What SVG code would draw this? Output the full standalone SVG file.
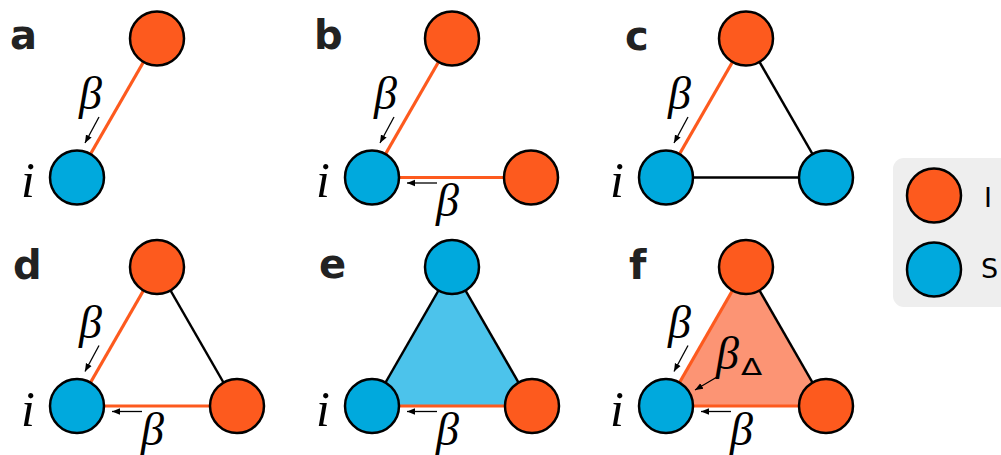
<svg xmlns="http://www.w3.org/2000/svg" width="1001" height="455" viewBox="0 0 1001 455">
<style>
.I{fill:#FD5A1E;stroke:#000;stroke-width:2.5}
.S{fill:#00A9DD;stroke:#000;stroke-width:2.5}
.eo{stroke:#FD5A1E;stroke-width:3.2;fill:none}
.ek{stroke:#000;stroke-width:2.5;fill:none}
.ar{stroke:#000;stroke-width:1.3;fill:none;marker-end:url(#ah)}
.lab{font-family:"DejaVu Sans",sans-serif;font-weight:bold;font-size:40px;fill:#222}
.m{font-family:"Liberation Serif","DejaVu Serif",serif;font-style:italic;font-size:46px;fill:#000}
.ii{font-family:"Liberation Serif","DejaVu Serif",serif;font-style:italic;font-size:50px;fill:#000}
.leg{font-family:"DejaVu Sans",sans-serif;font-size:27px;fill:#000}
</style>
<defs>
<marker id="ah" viewBox="0 0 10 10" refX="10" refY="5" markerWidth="8" markerHeight="8" markerUnits="userSpaceOnUse" orient="auto">
<path d="M0,1 L10,5 L0,9 z" fill="#000"/>
</marker>
</defs>

<g id="panel-labels">
<text class="lab" x="10" y="49">a</text>
<text class="lab" x="314" y="49">b</text>
<text class="lab" x="625" y="50">c</text>
<text class="lab" x="13" y="279">d</text>
<text class="lab" x="319" y="278">e</text>
<text class="lab" x="629" y="279">f</text>
</g>

<g id="connectors">
<line class="eo" x1="157" y1="38.5" x2="77" y2="177.5"/>
<line class="eo" x1="452" y1="38.5" x2="372" y2="177.5"/>
<line class="eo" x1="372" y1="177.5" x2="531" y2="177.5"/>
<line class="eo" x1="746" y1="38.5" x2="666" y2="177.5"/>
<line class="ek" x1="746" y1="38.5" x2="826" y2="177.5"/>
<line class="ek" x1="666" y1="177.5" x2="826" y2="177.5"/>
<line class="eo" x1="157" y1="267" x2="77" y2="406"/>
<line class="ek" x1="157" y1="267" x2="237" y2="406"/>
<line class="eo" x1="77" y1="406" x2="237" y2="406"/>
<polygon points="452,267 372,406 532,406" fill="#4CC3EB" stroke="none"/>
<line class="ek" x1="452" y1="267" x2="372" y2="406"/>
<line class="ek" x1="452" y1="267" x2="532" y2="406"/>
<line class="eo" x1="372" y1="406" x2="532" y2="406"/>
<polygon points="746,267 666,406 826,406" fill="#FC9474" stroke="none"/>
<line class="eo" x1="746" y1="267" x2="666" y2="406"/>
<line class="ek" x1="746" y1="267" x2="826" y2="406"/>
<line class="eo" x1="666" y1="406" x2="826" y2="406"/>

<line class="ar" x1="99" y1="117" x2="85" y2="143"/>
<line class="ar" x1="394" y1="117" x2="380" y2="143"/>
<line class="ar" x1="688" y1="117" x2="674" y2="143"/>
<line class="ar" x1="99" y1="345.5" x2="85" y2="371.5"/>
<line class="ar" x1="688" y1="345.5" x2="674" y2="371.5"/>
<line class="ar" x1="437" y1="183" x2="407" y2="183"/>
<line class="ar" x1="142" y1="411.5" x2="112" y2="411.5"/>
<line class="ar" x1="437" y1="411.5" x2="407" y2="411.5"/>
<line class="ar" x1="731" y1="411.5" x2="701" y2="411.5"/>
<line class="ar" x1="717" y1="377" x2="695" y2="390"/>
</g>

<g id="edge-labels">
<text class="m" x="79" y="109">β</text>
<text class="m" x="374" y="109">β</text>
<text class="m" x="668" y="109">β</text>
<text class="m" x="79" y="337.5">β</text>
<text class="m" x="668" y="337.5">β</text>
<text class="m" x="436" y="216">β</text>
<text class="m" x="141" y="444.5">β</text>
<text class="m" x="436" y="444.5">β</text>
<text class="m" x="730" y="444.5">β</text>
<text class="m" x="716" y="369">β</text>
<text transform="translate(741,375) scale(1.35,1)" font-family="DejaVu Sans, sans-serif" font-size="23">Δ</text>
</g>

<g id="node-labels">
<text class="ii" x="21" y="197">i</text>
<text class="ii" x="316" y="197">i</text>
<text class="ii" x="610" y="197">i</text>
<text class="ii" x="21" y="425.5">i</text>
<text class="ii" x="316" y="425.5">i</text>
<text class="ii" x="610" y="425.5">i</text>
</g>

<g id="a-nodes">
<circle id="a-top" class="I" cx="157" cy="38.5" r="27"/>
<circle id="a-i" class="S" cx="77" cy="177.5" r="27"/>
</g>
<g id="b-nodes">
<circle id="b-top" class="I" cx="452" cy="38.5" r="27"/>
<circle id="b-i" class="S" cx="372" cy="177.5" r="27"/>
<circle id="b-right" class="I" cx="531" cy="177.5" r="27"/>
</g>
<g id="c-nodes">
<circle id="c-top" class="I" cx="746" cy="38.5" r="27"/>
<circle id="c-i" class="S" cx="666" cy="177.5" r="27"/>
<circle id="c-right" class="S" cx="826" cy="177.5" r="27"/>
</g>
<g id="d-nodes">
<circle id="d-top" class="I" cx="157" cy="267" r="27"/>
<circle id="d-i" class="S" cx="77" cy="406" r="27"/>
<circle id="d-right" class="I" cx="237" cy="406" r="27"/>
</g>
<g id="e-nodes">
<circle id="e-top" class="S" cx="452" cy="267" r="27"/>
<circle id="e-i" class="S" cx="372" cy="406" r="27"/>
<circle id="e-right" class="I" cx="532" cy="406" r="27"/>
</g>
<g id="f-nodes">
<circle id="f-top" class="I" cx="746" cy="267" r="27"/>
<circle id="f-i" class="S" cx="666" cy="406" r="27"/>
<circle id="f-right" class="I" cx="826" cy="406" r="27"/>
</g>

<g id="legend">
<rect x="893" y="158" width="130" height="149" rx="11" fill="#EEEEEE"/>
<circle class="I" cx="934" cy="195.5" r="27"/>
<circle class="S" cx="934" cy="269.5" r="27"/>
<text class="leg" x="984" y="207">I</text>
<text class="leg" x="981" y="278">S</text>
</g>
</svg>
